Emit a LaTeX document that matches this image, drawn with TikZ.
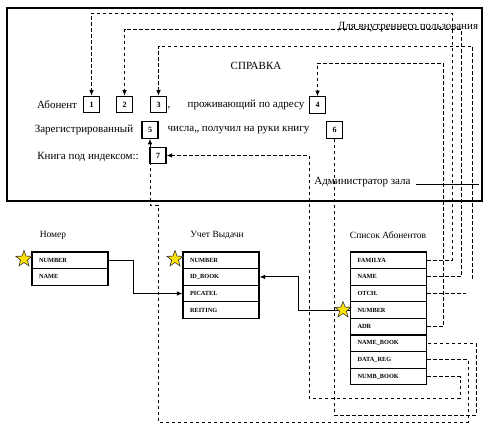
\documentclass[tikz,border=0pt]{standalone}
\usepackage{fontspec}
\setmainfont{Liberation Serif}
\usepackage{xcolor}
\usetikzlibrary{arrows.meta,positioning,calc,shapes.geometric}

\begin{document}
\begin{tikzpicture}[
  x=1pt, y=-1pt,
  numbox/.style={draw, line width=1.1pt, minimum width=16pt, minimum height=16.5pt,
    inner sep=0pt, font=\fontsize{8}{9}\selectfont\bfseries},
  txt/.style={font=\fontsize{11}{13}\selectfont, inner sep=0pt},
  ttl/.style={font=\fontsize{9.5}{11}\selectfont, inner sep=0pt},
  fld/.style={draw, line width=1.1pt, minimum width=76pt, minimum height=16.6pt,
    text width=62pt, align=left, inner sep=0pt, font=\fontsize{6.3}{7}\selectfont\bfseries},
  key/.style={star, star points=5, star point ratio=2.4, draw=black!80,
    fill=yellow!85!orange, minimum size=17pt, inner sep=0pt, line width=0.6pt},
  link/.style={dash pattern=on 3.5pt off 2.5pt, line width=0.9pt},
  rel/.style={line width=1pt},
  >={Latex[length=5.5pt,width=4.5pt]}
]
  \useasboundingbox (0,0) rectangle (492,427);
  \def\rowh{16.6}

  % ── Form: Справка ──
  \draw[line width=1.4pt] (7,8) rectangle (482,201);
  \node[txt] (inner) at (408,27) {Для внутреннего пользования};
  \node[txt] (title) at (256,66) {СПРАВКА};

  \node[txt] (abon) at (57,105) {Абонент};
  \node[numbox] (b1) at (91.5,104.5) {1};
  \node[numbox] (b2) at (124.5,104.5) {2};
  \node[numbox] (b3) at (158.5,104.5) {3};
  \node[txt] (comma) at (169,108) {,};
  \node[txt] (prozh) at (246,105) {проживающий по адресу};
  \node[numbox] (b4) at (317.5,105) {4};

  \node[txt] (zareg) at (84,130) {Зарегистрированный};
  \node[numbox] (b5) at (150,130) {5};
  \node[txt] (chisla) at (238.5,130) {числа,, получил на руки книгу};
  \node[numbox] (b6) at (334.5,130) {6};

  \node[txt] (kniga) at (88,157) {Книга под индексом::};
  \node[numbox] (b7) at (158,155.5) {7};

  \node[txt] (adm) at (362.5,182) {Администратор зала};
  \draw[line width=0.7pt] ([xshift=5pt]adm.base east) -- ++(63,0);

  % ── Table: Номер ──
  \node[ttl] (tnom) at (53,235) {Номер};
  \foreach \n/\f [count=\i from 0] in {nnum/NUMBER, nnam/NAME}
    \node[fld] (\n) at (70,{260.3+\rowh*\i}) {\f};

  % ── Table: Учет Выдачи ──
  \node[ttl] (tuch) at (217,235) {Учет Выдачи};
  \foreach \n/\f [count=\i from 0] in {unum/NUMBER, uid/ID\_BOOK, upic/PICATEL, urei/REITING}
    \node[fld] (\n) at (221,{260.3+\rowh*\i}) {\f};

  % ── Table: Список Абонентов ──
  \node[ttl] (tspis) at (388,235) {Список Абонентов};
  \foreach \n/\f [count=\i from 0] in {sfam/FAMILYA, snam/NAME, sotc/OTCH., snum/NUMBER,
      sadr/ADR, snbk/NAME\_BOOK, sdat/DATA\_REG, snmb/NUMB\_BOOK}
    \node[fld] (\n) at (388.5,{260.3+\rowh*\i}) {\f};

  % ── Links: fields to form ──
  \draw[link,->] (sfam.east) -| (452,13) -| (b1.north);
  \draw[link,->] (snam.east) -| (461,29) -| (b2.north);
  \coordinate (e3) at (472,279);
  \draw[link,->] (e3) |- (400,46) -| (b3.north);
  \coordinate (otcend) at ($(sotc.east)+(39,0)$);
  \draw[link] (sotc.east) -- (otcend);
  \draw[link,->] (sadr.east) -| (443,63) -| (b4.north);
  \draw[link,->] (sdat.east) -| (468,422) -| (158,205) -| (b5.south);
  \draw[link] (b6.south) |- (476,415) |- (snbk.east);
  \draw[link,->] (snmb.east) -| (460,398) -| (309,155.5) -- (b7.east);

  % ── Relations ──
  \draw[rel,->] (nnum.east) -- ++(25,0) |- (upic.west);
  \draw[rel,->] (snum.west) -- ++(-51,0) |- (uid.east);

  % keys
  \node[key] (k1) at (24,259) {};
  \node[key] (k2) at (175,259) {};
  \node[key] (k3) at (343,310) {};

\end{tikzpicture}
\end{document}
